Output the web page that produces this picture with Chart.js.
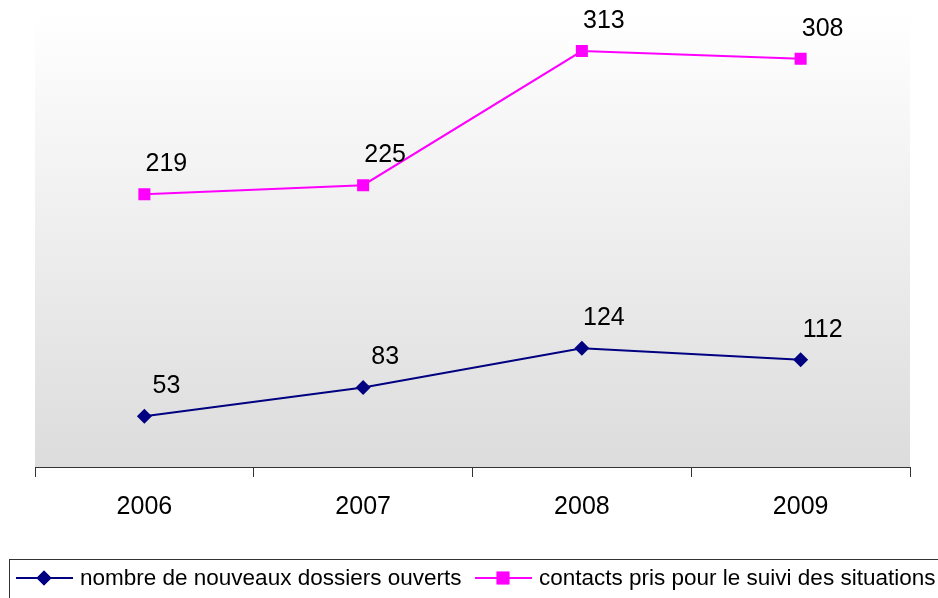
<!DOCTYPE html>
<html>
<head>
<meta charset="utf-8">
<script src="https://cdn.jsdelivr.net/npm/chart.js@4.4.0/dist/chart.umd.min.js"></script>
<style>
  html, body { margin: 0; padding: 0; background: #fff; }
  #wrap { width: 938px; height: 598px; position: relative; }
</style>
</head>
<body>
<div id="wrap"><canvas id="chart"></canvas></div>
<script>
const years = ['2006', '2007', '2008', '2009']
const dossiers = [53, 83, 124, 112]
const contacts = [219, 225, 313, 308]

const seriesNames = [
  'nombre de nouveaux dossiers ouverts',
  'contacts pris pour le suivi des situations',
]

const FONT = '"Liberation Sans", Arial, sans-serif'
const NAVY = '#000080'
const PINK = '#ff00ff'

// gradient behind the plot area
const plotBg = {
  id: 'plotBg',
  beforeDraw(chart) {
    const {ctx, chartArea: a} = chart
    const g = ctx.createLinearGradient(0, a.top, 0, a.bottom)
    g.addColorStop(0, '#ffffff')
    g.addColorStop(1, '#dcdcdc')
    ctx.save()
    ctx.fillStyle = g
    ctx.fillRect(a.left, a.top, a.right - a.left, a.bottom - a.top)
    ctx.restore()
  },
}

// value labels, up and to the right of each point
const valueLabels = {
  id: 'valueLabels',
  afterDatasetsDraw(chart) {
    const {ctx} = chart
    ctx.save()
    ctx.font = '25px ' + FONT
    ctx.fillStyle = '#000'
    ctx.textAlign = 'center'
    ctx.textBaseline = 'middle'
    chart.data.datasets.forEach((ds, i) => {
      chart.getDatasetMeta(i).data.forEach((pt, j) => {
        ctx.fillText(String(ds.data[j]), pt.x + 22, pt.y - 30)
      })
    })
    ctx.restore()
  },
}

// boxed legend at the bottom, line + marker like the original
const boxLegend = {
  id: 'boxLegend',
  afterDraw(chart) {
    const {ctx} = chart
    ctx.save()
    ctx.strokeStyle = '#333'
    ctx.lineWidth = 1
    ctx.strokeRect(9.5, 559.5, 940, 60)
    ctx.font = '22.5px ' + FONT
    ctx.textBaseline = 'middle'
    ctx.fillStyle = '#000'
    const items = [
      {x: 16, color: NAVY, style: 'rectRot', r: 7.5, text: seriesNames[0]},
      {x: 475, color: PINK, style: 'rect', r: 9, text: seriesNames[1]},
    ]
    const y = 578
    items.forEach((it) => {
      ctx.strokeStyle = it.color
      ctx.lineWidth = 2
      ctx.beginPath()
      ctx.moveTo(it.x, y)
      ctx.lineTo(it.x + 57, y)
      ctx.stroke()
      ctx.fillStyle = it.color
      Chart.helpers.drawPoint(ctx, {pointStyle: it.style, radius: it.r, rotation: 0, borderWidth: 0}, it.x + 28, y)
      ctx.fill()
      ctx.fillStyle = '#000'
      ctx.fillText(it.text, it.x + 64, y + 1)
    })
    ctx.restore()
  },
}

new Chart(document.getElementById('chart'), {
  type: 'line',
  data: {
    labels: years,
    datasets: [
      {
        label: seriesNames[0],
        data: dossiers,
        yAxisID: 'y',
        borderColor: NAVY,
        backgroundColor: NAVY,
        borderWidth: 2,
        pointStyle: 'rectRot',
        pointRadius: 7.5,
        pointHoverRadius: 7.5,
        pointBorderWidth: 0,
        tension: 0,
      },
      {
        label: seriesNames[1],
        data: contacts,
        yAxisID: 'y2',
        borderColor: PINK,
        backgroundColor: PINK,
        borderWidth: 2,
        pointStyle: 'rect',
        pointRadius: 8.5,
        pointHoverRadius: 8.5,
        pointBorderWidth: 0,
        tension: 0,
      },
    ],
  },
  options: {
    responsive: true,
    maintainAspectRatio: false,
    animation: false,
    layout: {padding: {left: 35, right: 28, top: 13, bottom: 71}},
    plugins: {
      legend: {display: false},
      tooltip: {enabled: false},
    },
    scales: {
      x: {
        offset: true,
        grid: {offset: true, drawOnChartArea: false, color: '#333', tickLength: 10, tickWidth: 1},
        border: {color: '#333', width: 1},
        ticks: {color: '#000', font: {family: FONT, size: 25}, padding: 15},
        afterFit(s) { s.height = 60 },
      },
      y: {display: false, min: 0, max: 474},
      y2: {display: false, min: 40, max: 338},
    },
  },
  plugins: [plotBg, valueLabels, boxLegend],
})
</script>
</body>
</html>
